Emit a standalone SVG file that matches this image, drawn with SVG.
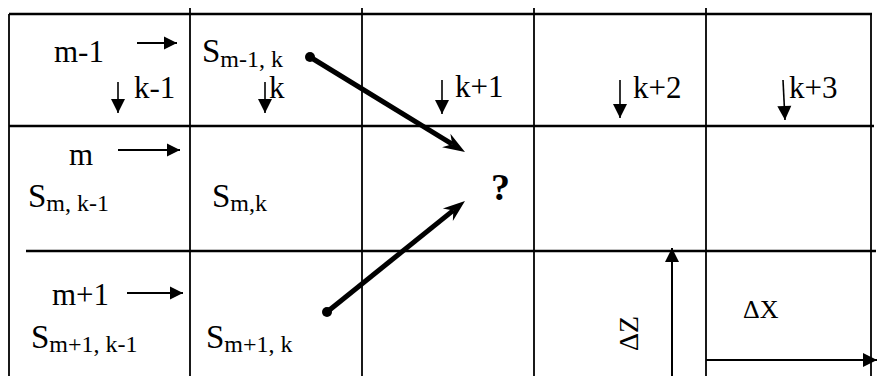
<svg xmlns="http://www.w3.org/2000/svg" width="877" height="376" viewBox="0 0 877 376">
<style>
text{font-family:"Liberation Serif","Times New Roman",serif;fill:#000}
.m{font-size:31px}
.k{font-size:31px}
.s{font-size:33px}
.sub{font-size:24px}
.grid line{stroke:#000}
.h{stroke-width:2.5}
.v{stroke-width:1.8}
.sa{stroke:#000;stroke-width:2;fill:none}
.big{stroke:#000;stroke-width:5;fill:none}
</style>
<defs>
<marker id="tri" markerUnits="userSpaceOnUse" markerWidth="13" markerHeight="13" refX="13" refY="6.5" orient="auto" overflow="visible">
<path d="M0,0 L13,6.5 L0,13 Z" fill="#000"/>
</marker>
<marker id="trid" markerUnits="userSpaceOnUse" markerWidth="14" markerHeight="14" refX="14" refY="7" orient="auto" overflow="visible">
<path d="M0,0 L14,7 L0,14 Z" fill="#000"/>
</marker>
<marker id="stealth" markerUnits="userSpaceOnUse" markerWidth="22" markerHeight="16" refX="7" refY="8" orient="auto" overflow="visible">
<path d="M22,8 L0,0 L7,8 L0,16 Z" fill="#000"/>
</marker>
</defs>
<rect width="877" height="376" fill="#fff"/>
<g id="grid" class="grid">
<line class="h" x1="9" y1="14" x2="872" y2="14"/>
<line class="h" x1="9" y1="126" x2="874" y2="126"/>
<line class="h" x1="26" y1="251" x2="876" y2="251"/>
<line class="v" x1="9" y1="14" x2="9" y2="376"/>
<line class="v" x1="190" y1="8" x2="190" y2="376"/>
<line class="v" x1="362" y1="8" x2="362" y2="376"/>
<line class="v" x1="534" y1="8" x2="534" y2="376"/>
<line class="v" x1="706" y1="8" x2="706" y2="376"/>
<line class="v" x1="871" y1="14" x2="871" y2="376"/>
</g>
<g id="cell-r0c0">
<text class="m" x="54" y="62">m-1</text>
<line class="sa" x1="137" y1="43" x2="177" y2="43" marker-end="url(#tri)"/>
<line class="sa" x1="118" y1="82" x2="118" y2="113" marker-end="url(#trid)" style="stroke-width:1.6"/>
<text class="k" x="134" y="98">k-1</text>
</g>
<g id="cell-r0c1">
<text class="s" x="202" y="62">S<tspan class="sub" dy="5">m-1, k</tspan></text>
<line class="sa" x1="265" y1="82" x2="265" y2="113" marker-end="url(#trid)" style="stroke-width:1.6"/>
<text class="k" x="269" y="98">k</text>
</g>
<g id="cell-r0c2">
<line class="sa" x1="442" y1="80" x2="442" y2="114" marker-end="url(#trid)" style="stroke-width:1.6"/>
<text class="k" x="455" y="97">k+1</text>
</g>
<g id="cell-r0c3">
<line class="sa" x1="620" y1="80" x2="620" y2="118" marker-end="url(#trid)" style="stroke-width:1.6"/>
<text class="k" x="633" y="98">k+2</text>
</g>
<g id="cell-r0c4">
<line class="sa" x1="783" y1="80" x2="785" y2="120" marker-end="url(#trid)" style="stroke-width:1.6"/>
<text class="k" x="789" y="98">k+3</text>
</g>
<g id="cell-r1c0">
<text class="m" x="69" y="165">m</text>
<line class="sa" x1="118" y1="150" x2="180" y2="150" marker-end="url(#tri)"/>
<text class="s" x="28" y="207">S<tspan class="sub" dy="4">m, k-1</tspan></text>
</g>
<g id="cell-r1c1">
<text class="s" x="212" y="207">S<tspan class="sub" dy="4">m,k</tspan></text>
</g>
<g id="cell-r1c2">
<text x="491" y="200" font-weight="bold" style="font-size:38px">?</text>
</g>
<g id="cell-r2c0">
<text class="m" x="52" y="305">m+1</text>
<line class="sa" x1="127" y1="293" x2="183" y2="293" marker-end="url(#tri)"/>
<text class="s" x="31" y="348">S<tspan class="sub" dy="4">m+1, k-1</tspan></text>
</g>
<g id="cell-r2c1">
<text class="s" x="206" y="348">S<tspan class="sub" dy="4">m+1, k</tspan></text>
</g>
<g id="dz">
<line class="sa" x1="672" y1="376" x2="672" y2="248" marker-end="url(#trid)"/>
<text transform="translate(638,351) rotate(-90)" style="font-size:28px">ΔZ</text>
</g>
<g id="dx">
<text x="743" y="318" style="font-size:26px">ΔX</text>
<line class="sa" x1="706" y1="360" x2="877" y2="360" marker-end="url(#trid)"/>
</g>
<g id="connectors">
<circle cx="310" cy="57" r="5" fill="#000"/>
<line class="big" x1="310" y1="57" x2="452.2" y2="144.2" marker-end="url(#stealth)"/>
<circle cx="327" cy="312" r="5" fill="#000"/>
<line class="big" x1="327" y1="312" x2="453.3" y2="210.4" marker-end="url(#stealth)"/>
</g>
</svg>
